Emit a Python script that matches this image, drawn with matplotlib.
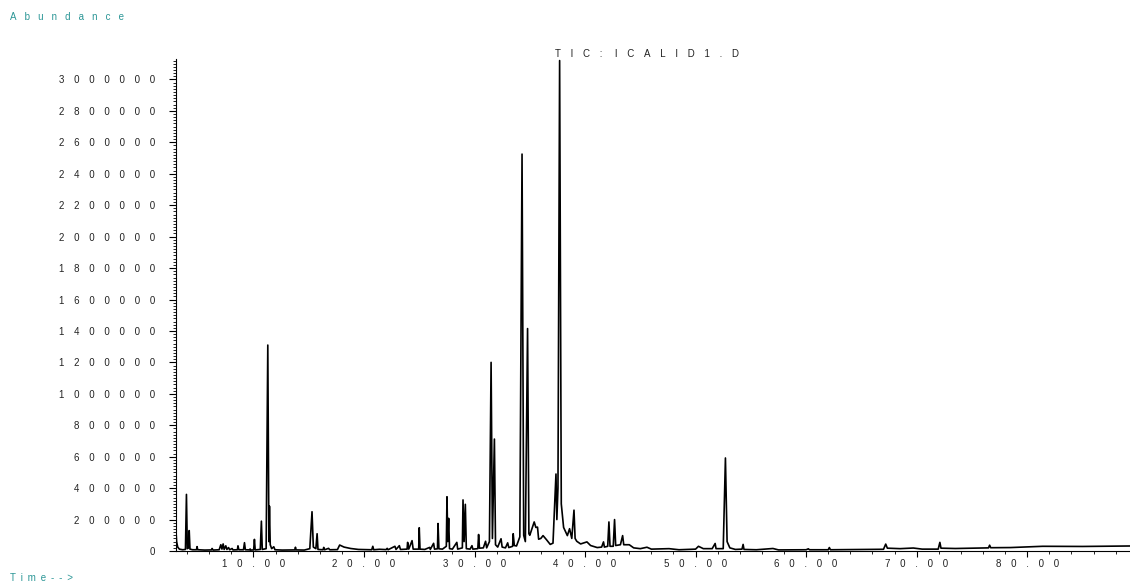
import matplotlib
matplotlib.use("Agg")
import matplotlib.pyplot as plt
from matplotlib.ticker import MultipleLocator

plt.rcParams["font.family"] = ["Liberation Sans", "DejaVu Sans"]

# retention time (min) and abundance
times = [
    3.0, 3.05, 3.15, 3.3, 3.6, 3.85, 3.94, 4.02, 4.12, 4.19, 4.26, 4.5, 4.85, 4.9, 4.96,
    5.6, 6.2, 6.26, 6.35, 6.9, 7.05, 7.15, 7.26, 7.35, 7.5, 7.6, 7.75, 7.85, 8.07, 8.15,
    8.55, 8.6, 8.68, 9.1, 9.19, 9.27, 9.65, 9.7, 9.76, 10.02, 10.09, 10.16, 10.62, 10.72,
    10.8, 11.15, 11.3, 11.4, 11.45, 11.52, 11.65, 11.84, 11.95, 12.6, 13.75, 13.8, 13.86,
    14.6, 15.1, 15.3, 15.42, 15.65, 15.76, 15.84, 16.3, 16.36, 16.44, 16.8, 16.9, 17.6,
    17.8, 18.2, 18.8, 19.5, 20.7, 20.8, 20.88, 21.4, 22.0, 22.1, 22.18, 22.8, 22.9, 23.2,
    23.3, 23.9, 23.95, 24.05, 24.35, 24.45, 24.95, 25.0, 25.07, 25.5, 25.94, 26.0, 26.3,
    26.38, 26.65, 26.7, 26.78, 27.1, 27.45, 27.51, 27.58, 27.66, 27.74, 28.0, 28.4, 28.48,
    28.9, 28.96, 29.06, 29.17, 29.26, 29.6, 29.77, 29.85, 30.3, 30.37, 30.45, 30.8, 31.0,
    31.1, 31.35, 31.5, 31.62, 31.8, 31.9, 32.1, 32.4, 32.5, 32.8, 33.0, 33.1, 33.45, 33.5,
    33.6, 33.8, 34.1, 34.3, 34.45, 34.6, 34.8, 34.92, 35.0, 35.4, 35.55, 35.7, 35.8, 36.0,
    36.2, 36.5, 36.85, 37.1, 37.37, 37.45, 37.55, 37.7, 37.85, 38.06, 38.4, 38.6, 38.8,
    39.0, 39.1, 39.25, 39.6, 40.17, 40.5, 41.1, 41.5, 41.67, 41.75, 42.05, 42.16, 42.26,
    42.55, 42.67, 42.77, 43.2, 43.4, 43.5, 44.0, 44.4, 45.0, 45.6, 46.0, 47.6, 48.5, 50.0,
    50.26, 50.7, 51.5, 51.77, 51.85, 52.5, 52.7, 52.85, 53.1, 53.6, 54.2, 54.3, 54.38,
    55.5, 57.0, 57.5, 60.0, 60.2, 60.3, 62.0, 62.1, 62.2, 64.0, 67.0, 67.2, 67.35, 68.5,
    69.7, 70.5, 71.95, 72.1, 72.2, 73.5, 76.5, 76.6, 76.7, 78.5, 81.4, 85.0, 89.3,
]
abundance = [
    120000, 60000, 25000, 12000, 8000, 10000, 360000, 15000, 20000, 130000, 12000, 8000, 8000, 28000, 8000,
    6000, 7000, 16000, 6000, 8000, 40000, 12000, 45000, 10000, 33000, 10000, 22000, 8000, 16000, 7000,
    8000, 33000, 8000, 8000, 53000, 8000, 7000, 13000, 6000, 7000, 74000, 7000, 10000, 190000,
    10000, 15000, 1310000, 60000, 285000, 40000, 15000, 27000, 8000, 6000, 7000, 24000, 7000,
    6000, 15000, 250000, 25000, 15000, 110000, 10000, 8000, 23000, 8000, 17000, 8000, 9000,
    38000, 25000, 16000, 10000, 8000, 30000, 8000, 11000, 9000, 17000, 8000, 30000, 10000, 34000,
    10000, 12000, 55000, 12000, 66000, 12000, 12000, 148000, 12000, 10000, 23000, 10000, 49000,
    12000, 14000, 175000, 14000, 12000, 30000, 345000, 60000, 208000, 15000, 12000, 55000, 12000,
    20000, 325000, 60000, 297000, 15000, 12000, 34000, 12000, 15000, 105000, 18000, 20000, 62000,
    20000, 60000, 1200000, 80000, 712000, 40000, 25000, 78000, 25000, 20000, 52000, 22000, 30000, 110000,
    35000, 32000, 90000, 2525000, 100000, 60000, 1415000, 110000, 100000, 185000, 150000, 152000, 75000, 80000,
    98000, 73000, 42000, 50000, 490000, 200000, 400000, 3120000, 300000, 150000, 98000, 142000, 80000,
    260000, 80000, 62000, 45000, 58000, 35000, 22000, 25000, 58000, 25000, 30000, 185000, 30000,
    30000, 200000, 35000, 40000, 98000, 40000, 40000, 20000, 15000, 24000, 12000, 15000, 8000, 12000,
    30000, 15000, 15000, 48000, 15000, 15000, 592000, 60000, 20000, 10000, 12000, 42000, 10000,
    8000, 16000, 7000, 8000, 14000, 8000, 8000, 22000, 8000, 9000, 11000, 44000, 18000, 15000,
    19000, 12000, 12000, 55000, 18000, 16000, 20000, 37000, 21000, 22000, 30000, 29000, 32000,
]

y_ticks = list(range(0, 3000001, 200000))
x_ticks = [10, 20, 30, 40, 50, 60, 70, 80]
title = "TIC: ICALID1.D"
teal = "#2b9696"


def spaced(s, gap="\u2003"):
    # wide letter spacing like the instrument printout
    return gap.join(s)


fig = plt.figure(figsize=(11.3, 5.86), dpi=100)
ax = fig.add_axes([0.1558, 0.0597, 0.8442, 0.8396])
ax.plot(times, abundance, color="black", lw=1.2)
ax.set_xlim(3.0, 89.3)
ax.set_ylim(0, 3130000)

for s in ["top", "right"]:
    ax.spines[s].set_visible(False)
for s in ["left", "bottom"]:
    ax.spines[s].set_linewidth(0.8)

ax.set_yticks(y_ticks, labels=[spaced(str(v)) for v in y_ticks])
ax.set_xticks(x_ticks, labels=[spaced(f"{v:.2f}") for v in x_ticks])
ax.xaxis.set_minor_locator(MultipleLocator(2))
ax.yaxis.set_minor_locator(MultipleLocator(20000))
ax.tick_params(axis="y", which="major", length=5, width=0.8, pad=10, labelsize=7, labelcolor="#222222")
ax.tick_params(axis="y", which="minor", length=2.2, width=0.6)
ax.tick_params(axis="x", which="major", length=4.3, width=0.8, pad=1.5, labelsize=7, labelcolor="#222222")
ax.tick_params(axis="x", which="minor", length=2.5, width=0.6)

title_txt = "\u2003 ".join(spaced(w) for w in title.split(" "))
fig.text(0.5726, 0.9078, title_txt, ha="center", va="center", fontsize=7, color="#222222")
fig.text(0.0088, 0.971, spaced("Abundance", "\u2002\u2004"), ha="left", va="center", fontsize=7, color=teal)
fig.text(0.0088, 0.0137, spaced("Time-->", "\u2002"), ha="left", va="center", fontsize=7, color=teal)

fig.savefig("out.png", dpi=100)
